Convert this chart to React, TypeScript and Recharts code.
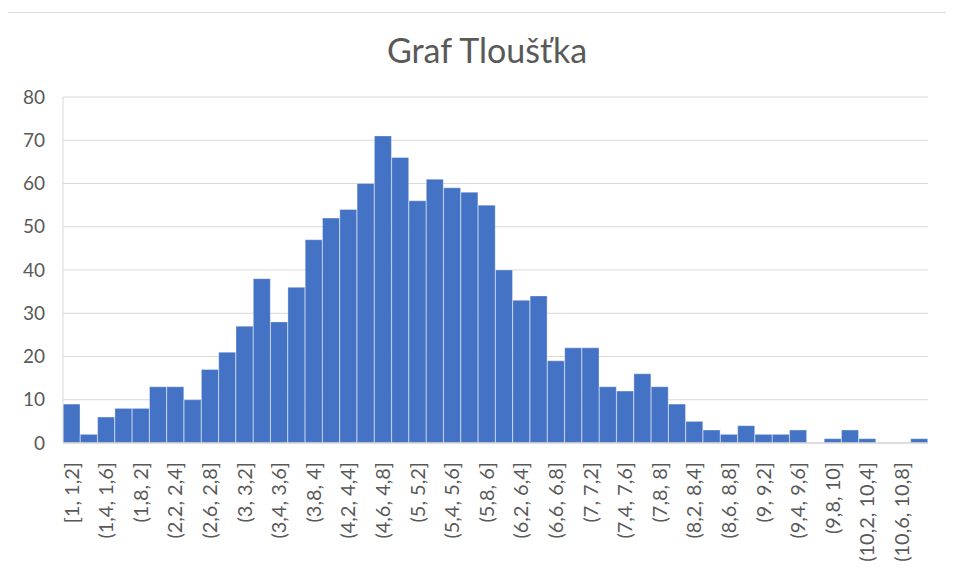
import React from "react";
import { BarChart, Bar, XAxis, YAxis, CartesianGrid } from "recharts";

const binLabels: string[] = [
  "[1, 1,2]", "(1,2, 1,4]", "(1,4, 1,6]", "(1,6, 1,8]", "(1,8, 2]",
  "(2, 2,2]", "(2,2, 2,4]", "(2,4, 2,6]", "(2,6, 2,8]", "(2,8, 3]",
  "(3, 3,2]", "(3,2, 3,4]", "(3,4, 3,6]", "(3,6, 3,8]", "(3,8, 4]",
  "(4, 4,2]", "(4,2, 4,4]", "(4,4, 4,6]", "(4,6, 4,8]", "(4,8, 5]",
  "(5, 5,2]", "(5,2, 5,4]", "(5,4, 5,6]", "(5,6, 5,8]", "(5,8, 6]",
  "(6, 6,2]", "(6,2, 6,4]", "(6,4, 6,6]", "(6,6, 6,8]", "(6,8, 7]",
  "(7, 7,2]", "(7,2, 7,4]", "(7,4, 7,6]", "(7,6, 7,8]", "(7,8, 8]",
  "(8, 8,2]", "(8,2, 8,4]", "(8,4, 8,6]", "(8,6, 8,8]", "(8,8, 9]",
  "(9, 9,2]", "(9,2, 9,4]", "(9,4, 9,6]", "(9,6, 9,8]", "(9,8, 10]",
  "(10, 10,2]", "(10,2, 10,4]", "(10,4, 10,6]", "(10,6, 10,8]", "(10,8, 11]",
];

const counts: number[] = [
  9, 2, 6, 8, 8, 13, 13, 10, 17, 21,
  27, 38, 28, 36, 47, 52, 54, 60, 71, 66,
  56, 61, 59, 58, 55, 40, 33, 34, 19, 22,
  22, 13, 12, 16, 13, 9, 5, 3, 2, 4,
  2, 2, 3, 0, 1, 3, 1, 0, 0, 1,
];

const yTicks: number[] = [0, 10, 20, 30, 40, 50, 60, 70, 80];

const title = "Graf Tloušťka";

const data = binLabels.map((label, i) => ({ label, count: counts[i] }));

const FONT = "Lato, 'Open Sans', sans-serif";
const TEXT = "#595959";
const GRID = "#d9d9d9";

const XTick = (props: any) => {
  const { x, y, payload } = props;
  return (
    <text
      x={x}
      y={y}
      dy="0.35em"
      transform={`rotate(-90, ${x}, ${y})`}
      textAnchor="end"
      fill={TEXT}
      fontSize={20}
      fontFamily={FONT}
    >
      {payload.value}
    </text>
  );
};

export default function App() {
  return (
    <div
      style={{
        position: "relative",
        width: 946,
        height: 570,
        overflow: "hidden",
        fontFamily: FONT,
        background: "#fff",
      }}
    >
      <div
        style={{
          position: "absolute",
          left: -1,
          top: 4,
          width: 1100,
          height: 1100,
          border: `1px solid ${GRID}`,
          boxSizing: "border-box",
        }}
      />
      <svg
        width={946}
        height={570}
        style={{ position: "absolute", left: 0, top: 0, pointerEvents: "none" }}
      >
        <text
          x={479}
          y={55}
          textAnchor="middle"
          fill={TEXT}
          fontSize={34}
          fontFamily={FONT}
        >
          {title}
        </text>
      </svg>
      <div style={{ position: "absolute", left: 0, top: 0 }}>
        <BarChart
          width={946}
          height={570}
          data={data}
          margin={{ top: 89, right: 26, left: 0, bottom: 5 }}
          barCategoryGap={0}
          barGap={0}
        >
          <CartesianGrid vertical={false} stroke={GRID} strokeWidth={1.2} />
          <XAxis
            dataKey="label"
            interval={1}
            height={130}
            tickLine={false}
            tickSize={0}
            tickMargin={19}
            axisLine={{ stroke: GRID, strokeWidth: 1.5 }}
            tick={<XTick />}
          />
          <YAxis
            width={55}
            domain={[0, 80]}
            ticks={yTicks}
            interval={0}
            tickLine={false}
            tickSize={0}
            tickMargin={18}
            axisLine={{ stroke: GRID, strokeWidth: 1 }}
            tick={{ fill: TEXT, fontSize: 19, fontFamily: FONT }}
          />
          <Bar
            dataKey="count"
            fill="#4472C4"
            stroke="#ffffff"
            strokeOpacity={0.35}
            strokeWidth={1}
            isAnimationActive={false}
          />
        </BarChart>
      </div>
    </div>
  );
}
